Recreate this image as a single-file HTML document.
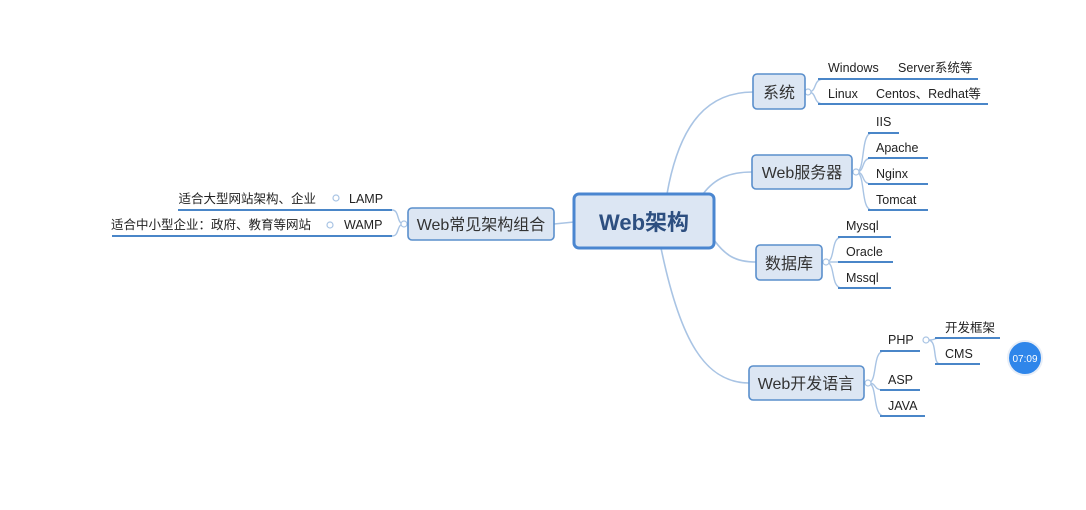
<!DOCTYPE html>
<html><head><meta charset="utf-8"><style>
html,body{margin:0;padding:0;background:#fff;}
svg{display:block;}
text{font-family:"Liberation Sans","Noto Sans CJK SC",sans-serif;fill:#222;}
</style></head><body>
<svg width="1086" height="510" viewBox="0 0 1086 510" xmlns="http://www.w3.org/2000/svg">
<g fill="none" stroke="#a9c4e4" stroke-width="1.6">
<!-- center connectors -->
<path d="M667 194 C680 120 710 92 753 92"/>
<path d="M703 194 C715 178 730 172 752 172"/>
<path d="M714 240 C725 255 735 262 756 262"/>
<path d="M661 248 C680 340 705 383 749 383"/>
<path d="M554 224 L574 222"/>
</g>
<g fill="none" stroke="#a9c4e4" stroke-width="1.4">
<!-- 系统 brackets -->
<path d="M808 92 C818 92 812 79 824 79"/>
<path d="M808 92 C818 92 812 104 824 104"/>
<!-- server -->
<path d="M856 172 C866 172 860 133 872 133"/>
<path d="M856 172 C866 172 860 158 872 158"/>
<path d="M856 172 C866 172 860 184 872 184"/>
<path d="M856 172 C866 172 860 210 872 210"/>
<!-- db -->
<path d="M826 262 C836 262 830 237 842 237"/>
<path d="M826 262 C836 262 830 262 842 262"/>
<path d="M826 262 C836 262 830 288 842 288"/>
<!-- dev -->
<path d="M868 383 C878 383 872 351 884 351"/>
<path d="M868 383 C878 383 872 390 884 390"/>
<path d="M868 383 C878 383 872 416 884 416"/>
<!-- php -->
<path d="M928 340 C938 340 932 338 940 338"/>
<path d="M928 340 C938 340 932 364 940 364"/>
<!-- left -->
<path d="M404 224 C396 224 400 210 392 210"/>
<path d="M404 224 C396 224 400 236 392 236"/>
</g>
<g fill="#fff" stroke="#a9c4e4" stroke-width="1.2">
<circle cx="808" cy="92" r="3"/><circle cx="856" cy="172" r="3"/><circle cx="826" cy="262" r="3"/>
<circle cx="868" cy="383" r="3"/><circle cx="926" cy="340" r="3"/><circle cx="404" cy="224" r="3"/>
<circle cx="336" cy="198" r="3"/><circle cx="330" cy="225" r="3"/>
</g>
<!-- underlines -->
<g stroke="#4a86c8" stroke-width="2">
<line x1="818" y1="79" x2="978" y2="79"/><line x1="818" y1="104" x2="988" y2="104"/>
<line x1="868" y1="133" x2="899" y2="133"/><line x1="868" y1="158" x2="928" y2="158"/>
<line x1="868" y1="184" x2="928" y2="184"/><line x1="868" y1="210" x2="928" y2="210"/>
<line x1="838" y1="237" x2="891" y2="237"/><line x1="838" y1="262" x2="893" y2="262"/>
<line x1="838" y1="288" x2="891" y2="288"/>
<line x1="880" y1="351" x2="920" y2="351"/><line x1="880" y1="390" x2="920" y2="390"/>
<line x1="880" y1="416" x2="925" y2="416"/>
<line x1="935" y1="338" x2="1000" y2="338"/><line x1="935" y1="364" x2="980" y2="364"/>
<line x1="178" y1="210" x2="392" y2="210"/><line x1="112" y1="236" x2="392" y2="236"/>
</g>
<!-- boxes -->
<g fill="#dce6f3" stroke="#5a8fcc" stroke-width="1.6">
<rect x="574" y="194" width="140" height="54" rx="5" stroke-width="3" stroke="#4a86d0"/>
<rect x="408" y="208" width="146" height="32" rx="4"/>
<rect x="753" y="74" width="52" height="35" rx="4"/>
<rect x="752" y="155" width="100" height="34" rx="4"/>
<rect x="756" y="245" width="66" height="35" rx="4"/>
<rect x="749" y="366" width="115" height="34" rx="4"/>
</g>
<text x="644" y="230" text-anchor="middle" font-size="22" font-weight="bold" style="fill:#2d4f80">Web架构</text>
<g font-size="16" text-anchor="middle" style="fill:#2a2a2a">
<text x="481" y="230" style="fill:#333">Web常见架构组合</text>
<text x="779" y="98" style="fill:#333">系统</text>
<text x="802" y="178" style="fill:#333">Web服务器</text>
<text x="789" y="269" style="fill:#333">数据库</text>
<text x="806" y="389" style="fill:#333">Web开发语言</text>
</g>
<g font-size="12.5">
<text x="828" y="72">Windows</text><text x="898" y="72">Server系统等</text>
<text x="828" y="98">Linux</text><text x="876" y="98">Centos、Redhat等</text>
<text x="876" y="126">IIS</text><text x="876" y="152">Apache</text>
<text x="876" y="178">Nginx</text><text x="876" y="204">Tomcat</text>
<text x="846" y="230">Mysql</text><text x="846" y="256">Oracle</text><text x="846" y="282">Mssql</text>
<text x="888" y="344">PHP</text><text x="888" y="384">ASP</text><text x="888" y="410">JAVA</text>
<text x="945" y="332">开发框架</text><text x="945" y="358">CMS</text>
<text x="349" y="203">LAMP</text><text x="344" y="229">WAMP</text>
<text x="316" y="203" text-anchor="end">适合大型网站架构、企业</text>
<text x="311" y="229" text-anchor="end">适合中小型企业：政府、教育等网站</text>
</g>
<circle cx="1025" cy="358" r="17" fill="#2f86ea" stroke="#e8eef7" stroke-width="2"/>
<text x="1025" y="362" text-anchor="middle" font-size="10" style="fill:#fff">07:09</text>
</svg>
</body></html>
